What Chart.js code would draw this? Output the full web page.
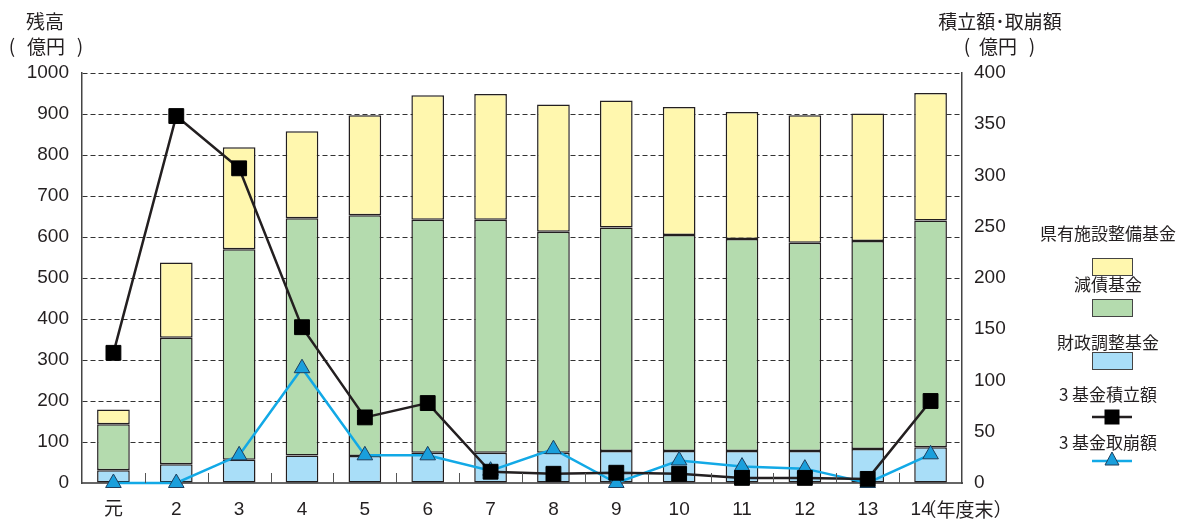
<!DOCTYPE html>
<html>
<head>
<meta charset="utf-8">
<script src="https://cdn.jsdelivr.net/npm/chart.js@4"></script>
<style>
  html, body { margin: 0; padding: 0; background: #fff; }
  #wrap { position: relative; width: 1179px; height: 521px; }
</style>
</head>
<body>
<div id="wrap"><canvas id="c" width="1179" height="521"></canvas></div>
<script>
'use strict';

// 年度末 categories
const categories = ['元', '2', '3', '4', '5', '6', '7', '8', '9', '10', '11', '12', '13', '14'];

// 残高 (億円), stacked bars
const zaiseiChousei = [31, 46, 57, 67, 66, 74, 74, 74, 78, 78, 78, 78, 83, 87];
const gensai = [112, 308, 513, 579, 587, 568, 568, 539, 545, 527, 517, 508, 507, 553];
const kenyuShisetsu = [36, 184, 249, 212, 244, 304, 307, 310, 310, 312, 310, 311, 311, 311];

// 積立額・取崩額 (億円), right axis
const tsumitate = [127, 358, 307, 152, 64, 78, 11, 9, 10, 9, 5, 5, 4, 80];
const torikuzushi = [0, 0, 27, 112, 27, 27, 12, 33, 0, 22, 16, 14, 0, 28];

const leftTicks = {min: 0, max: 1000, step: 100};
const rightTicks = {min: 0, max: 400, step: 50};

const FONT = '"Liberation Sans", "Noto Sans CJK JP", sans-serif';
const CJK = '"Noto Sans CJK JP", "Liberation Sans", sans-serif';
const TEXT = '#231f20';

const YELLOW = '#fff7ae';
const GREEN = '#b4dbae';
const BLUE = '#a9def8';
const EDGE = '#231f20';
const LINE_BLUE = '#12a9e6';
const TRI_FILL = '#1a9fdc';

const extras = {
    id: 'extras',
    afterDraw (chart)
    {
        const ctx = chart.ctx;
        const x = chart.scales.x;
        const y = chart.scales.y;
        const base = y.getPixelForValue(0);
        ctx.save();

        // small ticks between categories on the bottom axis
        ctx.strokeStyle = '#555';
        ctx.lineWidth = 1;
        for (let i = 1; i < categories.length; i++)
        {
            const px = Math.round((x.getPixelForValue(i - 1) + x.getPixelForValue(i)) / 2) + 0.5;
            ctx.beginPath();
            ctx.moveTo(px, base);
            ctx.lineTo(px, base - 10);
            ctx.stroke();
        }

        // axis titles
        ctx.fillStyle = TEXT;
        ctx.textAlign = 'center';
        ctx.textBaseline = 'middle';
        ctx.font = '19px ' + CJK;
        ctx.fillText('残高', 45, 22);
        ctx.fillText('(', 12, 46);
        ctx.fillText('億円', 46, 47);
        ctx.fillText(')', 80, 46);
        ctx.fillText('積立額･取崩額', 1000, 22);
        ctx.fillText('(', 967, 46);
        ctx.fillText('億円', 998, 47);
        ctx.fillText(')', 1032, 46);

        // last category label with unit
        const lx = x.getPixelForValue(categories.length - 1);
        ctx.textAlign = 'left';
        ctx.font = '19px ' + FONT;
        ctx.fillText(categories[categories.length - 1], lx - 20, 510);
        ctx.font = '19px ' + CJK;
        ctx.fillText('（年度末）', lx - 13, 510);

        // legend
        const cx = 1108;
        ctx.textAlign = 'center';
        ctx.font = '17px ' + CJK;
        const boxes = [
            ['県有施設整備基金', 234, YELLOW, 258],
            ['減債基金', 285, GREEN, 299],
            ['財政調整基金', 343, BLUE, 352]
        ];
        for (const [label, ty, color, by] of boxes)
        {
            ctx.fillStyle = TEXT;
            ctx.fillText(label, cx, ty);
            ctx.fillStyle = color;
            ctx.fillRect(1092, by, 40, 17);
            ctx.strokeStyle = '#444';
            ctx.lineWidth = 1;
            ctx.strokeRect(1092.5, by + 0.5, 40, 17);
        }

        ctx.fillStyle = TEXT;
        ctx.fillText('3 基金積立額', cx, 395);
        ctx.strokeStyle = '#231f20';
        ctx.lineWidth = 2.5;
        ctx.beginPath();
        ctx.moveTo(1092, 417);
        ctx.lineTo(1132, 417);
        ctx.stroke();
        ctx.fillStyle = '#000';
        ctx.fillRect(1112 - 7.5, 417 - 7.5, 15, 15);

        ctx.fillStyle = TEXT;
        ctx.fillText('3 基金取崩額', cx, 443);
        ctx.strokeStyle = LINE_BLUE;
        ctx.beginPath();
        ctx.moveTo(1092, 461);
        ctx.lineTo(1132, 461);
        ctx.stroke();
        ctx.fillStyle = TRI_FILL;
        ctx.strokeStyle = '#1d3f5e';
        ctx.lineWidth = 1;
        ctx.beginPath();
        ctx.moveTo(1112, 452);
        ctx.lineTo(1119, 465);
        ctx.lineTo(1105, 465);
        ctx.closePath();
        ctx.fill();
        ctx.stroke();

        ctx.restore();
    }
};

const barCommon = {
    type: 'bar',
    yAxisID: 'y',
    borderColor: EDGE,
    borderWidth: 1.5,
    borderSkipped: false,
    barPercentage: 0.52,
    categoryPercentage: 1,
    order: 2
};

new Chart(document.getElementById('c'), {
    type: 'bar',
    data: {
        labels: categories,
        datasets: [
            {...barCommon, label: '財政調整基金', data: zaiseiChousei, backgroundColor: BLUE},
            {...barCommon, label: '減債基金', data: gensai, backgroundColor: GREEN},
            {...barCommon, label: '県有施設整備基金', data: kenyuShisetsu, backgroundColor: YELLOW},
            {
                type: 'line',
                label: '3 基金取崩額',
                data: torikuzushi,
                yAxisID: 'y2',
                borderColor: LINE_BLUE,
                borderWidth: 2.5,
                pointStyle: 'triangle',
                pointRadius: 9,
                pointBackgroundColor: TRI_FILL,
                pointBorderColor: '#1d3f5e',
                pointBorderWidth: 1,
                tension: 0,
                clip: false,
                order: 1
            },
            {
                type: 'line',
                label: '3 基金積立額',
                data: tsumitate,
                yAxisID: 'y2',
                borderColor: '#231f20',
                borderWidth: 2.5,
                pointStyle: 'rect',
                pointRadius: 10.5,
                pointBackgroundColor: '#000',
                pointBorderColor: '#000',
                pointBorderWidth: 1,
                tension: 0,
                clip: false,
                order: 0
            }
        ]
    },
    options: {
        responsive: false,
        animation: false,
        layout: {padding: {top: 73, right: 157, left: 0, bottom: 0}},
        plugins: {
            legend: {display: false},
            tooltip: {enabled: false}
        },
        scales: {
            x: {
                stacked: true,
                offset: true,
                grid: {display: false, drawTicks: false},
                border: {color: '#666', width: 2},
                ticks: {
                    font: {size: 19, family: FONT},
                    color: TEXT,
                    padding: 15,
                    autoSkip: false,
                    maxRotation: 0,
                    callback: (v, i) => (i === categories.length - 1 ? '' : categories[i])
                },
                afterFit: (s) => { s.height = 38; }
            },
            y: {
                position: 'left',
                stacked: true,
                min: leftTicks.min,
                max: leftTicks.max,
                grid: {display: true, drawTicks: false, color: '#333', lineWidth: 1},
                border: {color: '#444', width: 1.5, dash: [5, 3]},
                ticks: {
                    stepSize: leftTicks.step,
                    font: {size: 19, family: FONT},
                    color: TEXT,
                    padding: 13,
                    callback: (v) => String(v)
                },
                afterFit: (s) => { s.width = 82; }
            },
            y2: {
                position: 'right',
                min: rightTicks.min,
                max: rightTicks.max,
                grid: {drawOnChartArea: false, drawTicks: false},
                border: {color: '#444', width: 1.5},
                ticks: {
                    stepSize: rightTicks.step,
                    font: {size: 19, family: FONT},
                    color: TEXT,
                    padding: 12,
                    callback: (v) => String(v)
                },
                afterFit: (s) => { s.width = 60; }
            }
        }
    },
    plugins: [extras]
});
</script>
</body>
</html>
